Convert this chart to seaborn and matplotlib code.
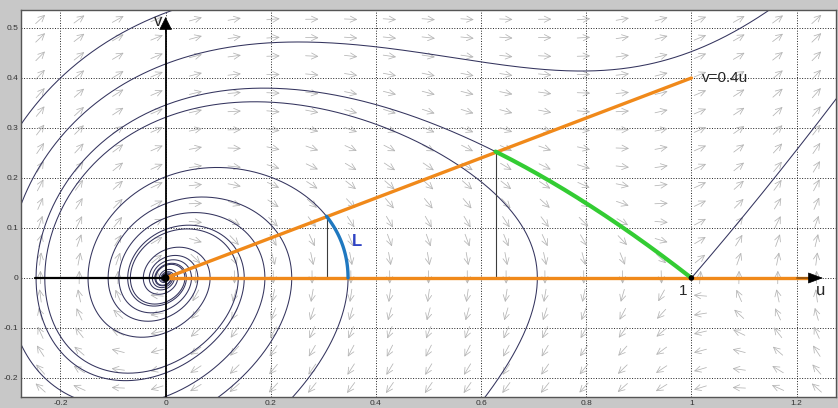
import numpy as np
import pandas as pd
import matplotlib
matplotlib.use("Agg")
import matplotlib.pyplot as plt
import seaborn as sns

# phase plane of u' = v, v' = c*v - u + u^2  (rest points (0,0) and (1,0))
c_speed = 0.4

u_lim = (-0.275, 1.275)
v_lim = (-0.238, 0.536)
u_ticks = [-0.2, 0, 0.2, 0.4, 0.6, 0.8, 1, 1.2]
u_tick_labels = ["-0.2", "0", "0.2", "0.4", "0.6", "0.8", "1", "1.2"]
v_ticks = [-0.2, -0.1, 0, 0.1, 0.2, 0.3, 0.4, 0.5]
v_tick_labels = ["-0.2", "-0.1", "0", "0.1", "0.2", "0.3", "0.4", "0.5"]

# points the drawn orbits pass through
orbit_u0 = [0.347, 0.707, 0.80, -0.20]
orbit_v0 = [0.0, 0.0, 0.414, 0.40]

line_slope = 0.4          # v = 0.4u
line_end_u = 1.0
u_axis_end = 1.25
n_arrows = 21

orbit_color = "#34345e"
orange = "#f0891a"
green = "#33cc33"
blue = "#1f78c0"


def field(u, v):
    return v, c_speed * v - u + u * u


def trace(u0, v0, direction, h=0.01, n=9000, box=2.5):
    pts = [(u0, v0)]
    u, v = u0, v0
    for _ in range(n):
        a1, b1 = field(u, v)
        a2, b2 = field(u + direction * h / 2 * a1, v + direction * h / 2 * b1)
        a3, b3 = field(u + direction * h / 2 * a2, v + direction * h / 2 * b2)
        a4, b4 = field(u + direction * h * a3, v + direction * h * b3)
        u = u + direction * h / 6 * (a1 + 2 * a2 + 2 * a3 + a4)
        v = v + direction * h / 6 * (b1 + 2 * b2 + 2 * b3 + b4)
        if abs(u) > box or abs(v) > box or u * u + v * v < 1e-10:
            break
        pts.append((u, v))
    return np.array(pts)


def full_orbit(u0, v0):
    back = trace(u0, v0, -1)
    fwd = trace(u0, v0, 1)
    return np.vstack([back[::-1], fwd[1:]])


def first_cross(path):
    # first point along path where it reaches the line v = 0.4u
    for i in range(1, len(path)):
        if path[i, 1] - line_slope * path[i, 0] >= 0:
            return i
    return len(path) - 1


sns.set_style("white")
plt.rcParams["font.family"] = ["Liberation Sans", "DejaVu Sans"]

fig = plt.figure(figsize=(8.38, 4.08), dpi=100, facecolor="#c8c8c8")
ax = fig.add_axes([21 / 838, 11 / 408, 815 / 838, 387 / 408])
ax.set_facecolor("white")
ax.set_xlim(*u_lim)
ax.set_ylim(*v_lim)

# direction field, unit length on screen
px_u = 815 / (u_lim[1] - u_lim[0])
px_v = 387 / (v_lim[1] - v_lim[0])
du_cell = (u_lim[1] - u_lim[0]) / n_arrows
dv_cell = (v_lim[1] - v_lim[0]) / n_arrows
arrow_px = 13
for i in range(n_arrows):
    for j in range(n_arrows):
        uc = u_lim[0] + (i + 0.5) * du_cell
        vc = v_lim[0] + (j + 0.5) * dv_cell
        fu, fv = field(uc, vc)
        sx, sy = fu * px_u, fv * px_v
        nrm = np.hypot(sx, sy)
        if nrm == 0:
            continue
        hu = arrow_px / 2 * sx / nrm / px_u
        hv = arrow_px / 2 * sy / nrm / px_v
        ax.annotate("", xy=(uc + hu, vc + hv), xytext=(uc - hu, vc - hv),
                    arrowprops=dict(arrowstyle="->,head_length=0.45,head_width=0.22",
                                    color="#b4b4b4", lw=0.55, shrinkA=0, shrinkB=0,
                                    mutation_scale=10),
                    zorder=1)

# orbits through the chosen points
for u0, v0 in zip(orbit_u0, orbit_v0):
    path = full_orbit(u0, v0)
    sns.lineplot(x=path[:, 0], y=path[:, 1], sort=False, estimator=None,
                 color=orbit_color, lw=0.75, ax=ax, zorder=2)

# saddle manifolds at (1, 0)
lam_u = (c_speed + np.sqrt(c_speed ** 2 + 4)) / 2
lam_s = (c_speed - np.sqrt(c_speed ** 2 + 4)) / 2
eps = 1e-5
stable = trace(1 - eps, -lam_s * eps, -1)
unstable = trace(1 + eps, lam_u * eps, 1)
for path in [stable, unstable]:
    sns.lineplot(x=path[:, 0], y=path[:, 1], sort=False, estimator=None,
                 color=orbit_color, lw=0.75, ax=ax, zorder=2)

# green piece of the stable orbit, from v = 0.4u down to the saddle
k = first_cross(stable)
green_part = stable[:k + 1]
sns.lineplot(x=green_part[:, 0], y=green_part[:, 1], sort=False, estimator=None,
             color=green, lw=3.0, ax=ax, zorder=6)

# blue arc L, orbit through (0.347, 0) between the two orange lines
l_back = trace(orbit_u0[0], orbit_v0[0], -1)
m = first_cross(l_back)
l_part = l_back[:m + 1]
sns.lineplot(x=l_part[:, 0], y=l_part[:, 1], sort=False, estimator=None,
             color=blue, lw=2.4, ax=ax, zorder=6)

# thin verticals under the two crossing points
for pu, pv in [green_part[-1], l_part[-1]]:
    ax.plot([pu, pu], [0, pv], color="#3c3c3c", lw=0.8, zorder=3)

# coordinate axes
ax.plot([-0.248, 0], [0, 0], color="black", lw=1.6, zorder=3)
ax.plot([0, 0], [v_lim[0], 0.505], color="black", lw=1.3, zorder=3)
ax.annotate("", xy=(0, 0.522), xytext=(0, 0.49),
            arrowprops=dict(arrowstyle="-|>,head_length=0.7,head_width=0.35",
                            color="black", lw=0.5, shrinkA=0, shrinkB=0,
                            mutation_scale=12), zorder=7)
ax.annotate("", xy=(u_axis_end, 0), xytext=(1.2, 0),
            arrowprops=dict(arrowstyle="-|>,head_length=0.8,head_width=0.3",
                            color="black", lw=0.5, shrinkA=0, shrinkB=0,
                            mutation_scale=12), zorder=7)

# orange lines v = 0 and v = 0.4u
sns.lineplot(x=[0, u_axis_end - 0.02], y=[0, 0], color=orange, lw=2.4, ax=ax, zorder=5)
sns.lineplot(x=[0, line_end_u], y=[0, line_slope * line_end_u], color=orange,
             lw=2.4, ax=ax, zorder=5)

# rest points
sns.scatterplot(x=[0, 1], y=[0, 0], s=[30, 16], size=[30, 16], sizes=(16, 30),
                color="black", edgecolor="none", legend=False, ax=ax, zorder=8)

ax.text(line_end_u + 0.02, line_slope * line_end_u, "v=0.4u", fontsize=11,
        ha="left", va="center", zorder=9)
ax.text(0.993, -0.012, "1", fontsize=11, ha="right", va="top", zorder=9)
ax.text(1.236, -0.01, "u", fontsize=12, ha="left", va="top", zorder=9)
ax.text(-0.006, 0.512, "v", fontsize=12, ha="right", va="center", zorder=9)
ax.text(0.355, 0.072, "L", fontsize=12, fontweight="bold", color="#2f43c4",
        ha="left", va="center", zorder=9)

ax.set_xticks(u_ticks)
ax.set_xticklabels(u_tick_labels)
ax.set_yticks(v_ticks)
ax.set_yticklabels(v_tick_labels)
ax.tick_params(length=0, labelsize=6, colors="#333333", pad=2)
ax.set_xlabel("")
ax.set_ylabel("")
ax.grid(True, linestyle=":", color="#222222", lw=0.7)
ax.set_axisbelow(True)
for sp in ax.spines.values():
    sp.set_color("#555555")
    sp.set_linewidth(1.0)

fig.savefig("out.png", dpi=100, facecolor=fig.get_facecolor())
